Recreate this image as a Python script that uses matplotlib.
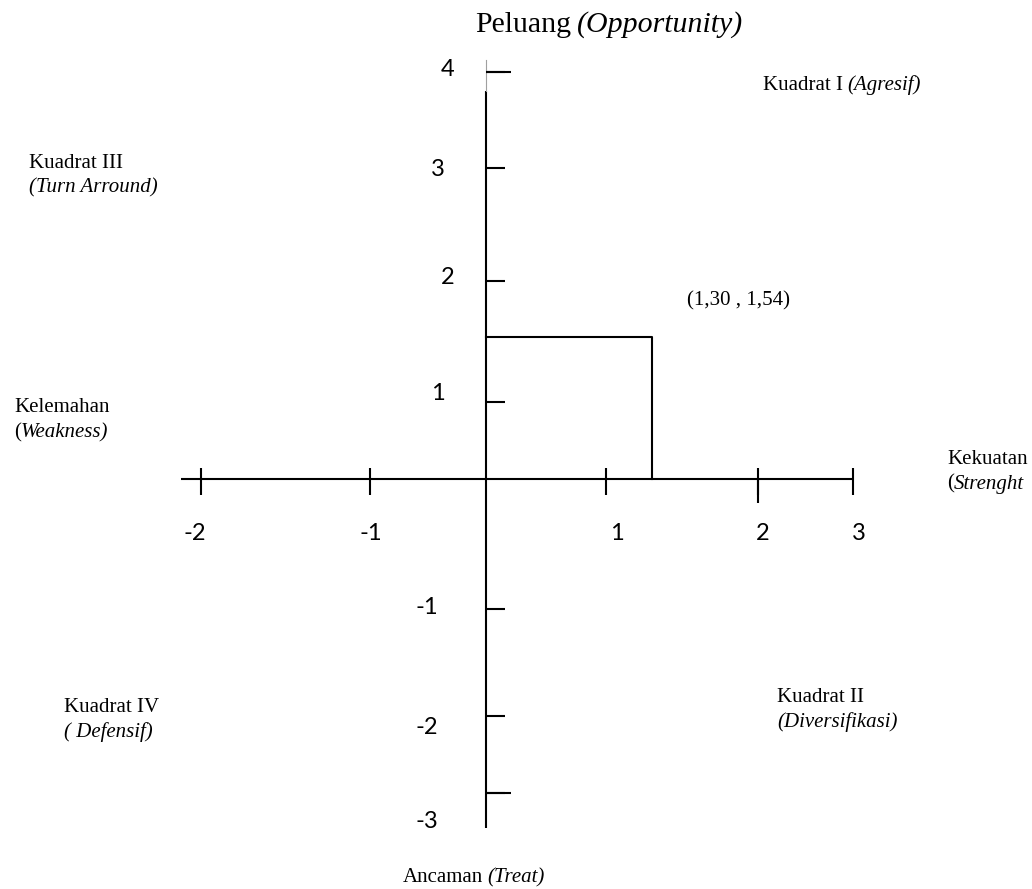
"""
Diagram kuadran SWOT (Peluang / Ancaman vs Kekuatan / Kelemahan).
"""

import numpy as np
import matplotlib
matplotlib.use('Agg')
import matplotlib.pyplot as plt
from matplotlib.transforms import IdentityTransform

# ---- data ----
x_ticks = [-2, -1, 0, 1, 2, 3]
y_ticks = [-3, -2, -1, 0, 1, 2, 3, 4]
x_tick_labels = ['-2', '-1', '1', '2', '3']
y_tick_labels = ['4', '3', '2', '1', '-1', '-2', '-3']
point_x = 1.30
point_y = 1.54
point_label = '(1,30 , 1,54)'
x_axis_extent = (-2.12, 3.0)
y_axis_extent = (-3.45, 3.8)

# ---- layout (pixel positions of the hand drawn ticks) ----
W, H = 1032, 889
X_TICK_PX = [201, 370, 486, 606, 758, 853]
Y_TICK_PX = [793, 716, 609, 479, 402, 281, 168, 72]      # from top
X_LABEL_POS = [(195, 533), (371, 533), (617, 533), (763, 533), (859, 533)]
Y_LABEL_POS = [(448, 70), (438, 170), (448, 278), (438, 393),
               (427, 608), (427, 728), (427, 822)]

SERIF = 'Liberation Serif'
SANS = 'Lato'


def make_warp(vals, pos):
    """piecewise linear mapping value -> pixel, linear past the ends"""
    vals = np.asarray(vals, dtype=float)
    pos = np.asarray(pos, dtype=float)

    def _map(v, a, b):
        v = np.asarray(v, dtype=float)
        out = np.interp(v, a, b)
        lo_slope = (b[1] - b[0]) / (a[1] - a[0])
        hi_slope = (b[-1] - b[-2]) / (a[-1] - a[-2])
        out = np.where(v < a[0], b[0] + (v - a[0]) * lo_slope, out)
        out = np.where(v > a[-1], b[-1] + (v - a[-1]) * hi_slope, out)
        return out

    return (lambda v: _map(v, vals, pos)), (lambda p: _map(p, pos, vals))


fig = plt.figure(figsize=(W / 100, H / 100), dpi=100)
ax = fig.add_axes([0, 0, 1, 1])
ax.axis('off')

fx, ix = make_warp(x_ticks, X_TICK_PX)
fy, iy = make_warp(y_ticks, [H - p for p in Y_TICK_PX])
ax.set_xscale('function', functions=(fx, ix))
ax.set_yscale('function', functions=(fy, iy))
ax.set_xlim(float(ix(0)), float(ix(W)))
ax.set_ylim(float(iy(0)), float(iy(H)))

LW = 1.5

# axes lines
ax.plot(x_axis_extent, [0, 0], color='black', lw=LW, solid_capstyle='butt')
ax.plot([0, 0], y_axis_extent, color='black', lw=LW, solid_capstyle='butt')
ax.plot([0, 0], [y_axis_extent[1], 4.12], color='#a0a0a0', lw=0.8)

# x ticks (cross the axis, a bit longer below)
xt = [v for v in x_ticks if v != 0]
ax.plot(xt, [0] * len(xt), ls='none', marker=2, ms=8, mew=LW, color='black')
ax.plot(xt, [0] * len(xt), ls='none', marker=3, ms=11.5, mew=LW, color='black')
ax.plot([2], [0], ls='none', marker=3, ms=17, mew=LW, color='black')

# y ticks (right side only)
yt = [v for v in y_ticks if v != 0]
ax.plot([0] * len(yt), yt, ls='none', marker=1, ms=14, mew=LW, color='black')
ax.plot([0, 0], [4, -3], ls='none', marker=1, ms=18, mew=LW, color='black')

# position of the strategy point
ax.plot([0, point_x, point_x], [point_y, point_y, 0], color='black', lw=LW)

renderer = fig.canvas.get_renderer()


def put_text(x, y, parts, size, family=SERIF):
    """write text pieces one after another, x/y in pixels from top-left"""
    for s, style in parts:
        if s.startswith(' '):
            x += 0.2 * size * 100 / 72
            s = s[1:]
        t = fig.text(x, H - y, s, transform=IdentityTransform(),
                     fontsize=size, fontstyle=style, family=family,
                     ha='left', va='center', color='black')
        x = t.get_window_extent(renderer).x1


# tick labels
for lab, (px, py) in zip(x_tick_labels, X_LABEL_POS):
    fig.text(px, H - py, lab, transform=IdentityTransform(), fontsize=17,
             family=SANS, ha='center', va='center')
for lab, (px, py) in zip(y_tick_labels, Y_LABEL_POS):
    fig.text(px, H - py, lab, transform=IdentityTransform(), fontsize=17,
             family=SANS, ha='center', va='center')

FS = 15
put_text(475, 25, [('Peluang', 'normal'), (' (Opportunity)', 'italic')], 21.5)
put_text(403, 878, [('Ancaman', 'normal'), (' (Treat)', 'italic')], FS)
put_text(763, 85, [('Kuadrat I', 'normal'), (' (Agresif)', 'italic')], FS)
put_text(29, 163, [('Kuadrat III', 'normal')], FS)
put_text(29, 188, [('(Turn Arround)', 'italic')], FS)
put_text(14, 407, [('Kelemahan', 'normal')], FS)
put_text(14, 433, [('(', 'normal'), ('Weakness)', 'italic')], FS)
put_text(947, 460, [('Kekuatan', 'normal')], FS)
put_text(947, 484, [('(', 'normal'), ('Strenght', 'italic')], FS)
put_text(777, 698, [('Kuadrat II', 'normal')], FS)
put_text(777, 722, [('(Diversifikasi)', 'italic')], FS)
put_text(64, 708, [('Kuadrat IV', 'normal')], FS)
put_text(64, 732, [('( Defensif)', 'italic')], FS)
put_text(687, 301, [(point_label, 'normal')], FS)

fig.savefig('out.png', dpi=100)
plt.close(fig)
